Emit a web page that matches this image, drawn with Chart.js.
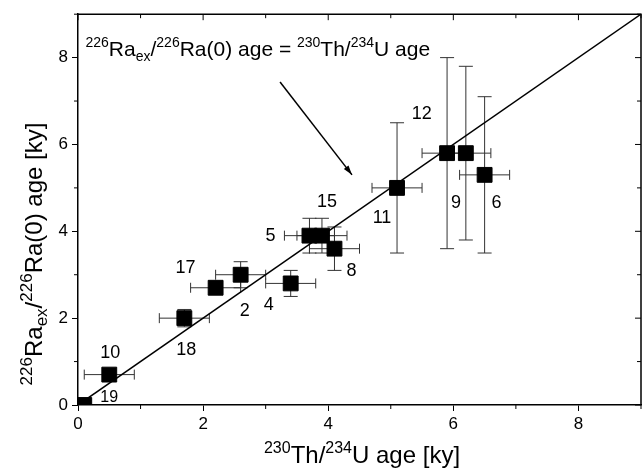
<!DOCTYPE html>
<html>
<head>
<meta charset="utf-8">
<script src="https://cdn.jsdelivr.net/npm/chart.js@4.4.1/dist/chart.umd.min.js"></script>
<style>
  html, body { margin: 0; padding: 0; background: #fff; }
  #wrap { width: 642px; height: 472px; position: relative; }
</style>
</head>
<body>
<div id="wrap"><canvas id="ageChart" width="642" height="472"></canvas></div>
<script>
// sample numbers and ages (ky)
let sampleIds = ["19", "10", "18", "17", "2", "4", "5", "15", "8", "11", "9", "12", "6"];
let thAge   = [0.1, 0.5, 1.7, 2.2, 2.6, 3.4, 3.7, 3.9, 4.1, 5.1, 5.9, 6.2, 6.5];
let raAge   = [0.0, 0.7, 2.0, 2.7, 3.0, 2.8, 3.9, 3.9, 3.6, 5.0, 5.8, 5.8, 5.3];
let thErr   = [0.0, 0.4, 0.4, 0.4, 0.4, 0.4, 0.4, 0.4, 0.4, 0.4, 0.4, 0.4, 0.4];
let raErr   = [0.0, 0.1, 0.2, 0.1, 0.3, 0.3, 0.4, 0.4, 0.5, 1.5, 2.2, 2.0, 1.8];
let xTicks  = [0, 2, 4, 6, 8];
let yTicks  = [0, 2, 4, 6, 8];
let oneToOne = [0, 9];

// where each sample number sits relative to its square (px)
let labelShift = [
    [25, -7], [1, -22], [2, 32], [-30, -20], [4, 36], [-22, 22], [-39, 0],
    [5, -34], [17, 22], [-15, 30], [9, 50], [-44, -39], [12, 28]
];

const FONT = "'Liberation Sans', Arial, Helvetica, sans-serif";

// draws a string made of normal / sup / sub pieces, starting at x (left) on baseline y
function richWidth(ctx, parts, size, small) {
    let w = 0;
    parts.forEach((p) => {
        ctx.font = (p.s ? small : size) + "px " + FONT;
        w += ctx.measureText(p.t).width;
    });
    return w;
}
function drawRich(ctx, parts, x, y, size, small) {
    parts.forEach((p) => {
        ctx.font = (p.s ? small : size) + "px " + FONT;
        let dy = 0;
        if (p.s == "sup") dy = -size * 0.42;
        if (p.s == "sub") dy = size * 0.22;
        ctx.fillText(p.t, x, y + dy);
        x += ctx.measureText(p.t).width;
    });
}

const xTitle = [{t: "230", s: "sup"}, {t: "Th/"}, {t: "234", s: "sup"}, {t: "U age [ky]"}];
const yTitle = [{t: "226", s: "sup"}, {t: "Ra"}, {t: "ex", s: "sub"}, {t: "/"}, {t: "226", s: "sup"}, {t: "Ra(0) age [ky]"}];
const note   = [{t: "226", s: "sup"}, {t: "Ra"}, {t: "ex", s: "sub"}, {t: "/"}, {t: "226", s: "sup"}, {t: "Ra(0) age = "},
                {t: "230", s: "sup"}, {t: "Th/"}, {t: "234", s: "sup"}, {t: "U age"}];

const errorBars = {
    id: "errorBars",
    beforeDatasetsDraw(chart) {
        let ctx = chart.ctx;
        let xs = chart.scales.x, ys = chart.scales.y;
        ctx.save();
        ctx.strokeStyle = "#333";
        ctx.lineWidth = 1;
        for (let i = 0; i < thAge.length; i++) {
            let px = xs.getPixelForValue(thAge[i]);
            let py = ys.getPixelForValue(raAge[i]);
            if (thErr[i] > 0) {
                let x0 = xs.getPixelForValue(thAge[i] - thErr[i]);
                let x1 = xs.getPixelForValue(thAge[i] + thErr[i]);
                ctx.beginPath();
                ctx.moveTo(x0, py); ctx.lineTo(x1, py);
                ctx.moveTo(x0, py - 5); ctx.lineTo(x0, py + 5);
                ctx.moveTo(x1, py - 5); ctx.lineTo(x1, py + 5);
                ctx.stroke();
            }
            if (raErr[i] > 0) {
                let y0 = ys.getPixelForValue(raAge[i] - raErr[i]);
                let y1 = ys.getPixelForValue(raAge[i] + raErr[i]);
                ctx.beginPath();
                ctx.moveTo(px, y0); ctx.lineTo(px, y1);
                ctx.moveTo(px - 7, y0); ctx.lineTo(px + 7, y0);
                ctx.moveTo(px - 7, y1); ctx.lineTo(px + 7, y1);
                ctx.stroke();
            }
        }
        ctx.restore();
    }
};

const frameAndText = {
    id: "frameAndText",
    afterDraw(chart) {
        let ctx = chart.ctx;
        let a = chart.chartArea;
        let xs = chart.scales.x, ys = chart.scales.y;
        ctx.save();
        ctx.strokeStyle = "#000";
        ctx.fillStyle = "#000";
        ctx.lineWidth = 1.5;
        ctx.beginPath();
        ctx.moveTo(a.left, a.top); ctx.lineTo(a.right, a.top); ctx.lineTo(a.right, a.bottom);
        ctx.stroke();

        // minor ticks outside, mirrored ticks inside on top/right
        ctx.lineWidth = 1;
        ctx.beginPath();
        for (let v = 0; v <= 9; v++) {
            let px = xs.getPixelForValue(v);
            let py = ys.getPixelForValue(v);
            let len = v % 2 == 0 ? 6 : 4;
            if (v % 2 == 1) {
                ctx.moveTo(px, a.bottom); ctx.lineTo(px, a.bottom + 4);
                ctx.moveTo(a.left, py); ctx.lineTo(a.left - 4, py);
            }
            ctx.moveTo(px, a.top); ctx.lineTo(px, a.top + len);
            ctx.moveTo(a.right, py); ctx.lineTo(a.right - len, py);
        }
        ctx.stroke();

        // sample numbers
        ctx.textAlign = "center";
        ctx.textBaseline = "middle";
        for (let i = 0; i < sampleIds.length; i++) {
            ctx.font = (sampleIds[i] == "19" ? 16 : 18) + "px " + FONT;
            ctx.fillText(sampleIds[i],
                xs.getPixelForValue(thAge[i]) + labelShift[i][0],
                ys.getPixelForValue(raAge[i]) + labelShift[i][1]);
        }

        // annotation and arrow
        ctx.textAlign = "left";
        ctx.textBaseline = "alphabetic";
        drawRich(ctx, note, xs.getPixelForValue(0.12), ys.getPixelForValue(8.04), 21, 14);
        let ax0 = xs.getPixelForValue(3.23), ay0 = ys.getPixelForValue(7.44);
        let ax1 = xs.getPixelForValue(4.38), ay1 = ys.getPixelForValue(5.3);
        ctx.lineWidth = 1.5;
        ctx.beginPath();
        ctx.moveTo(ax0, ay0); ctx.lineTo(ax1, ay1);
        ctx.stroke();
        let ang = Math.atan2(ay1 - ay0, ax1 - ax0);
        ctx.beginPath();
        ctx.moveTo(ax1, ay1);
        ctx.lineTo(ax1 - 10 * Math.cos(ang - 0.3), ay1 - 10 * Math.sin(ang - 0.3));
        ctx.lineTo(ax1 - 10 * Math.cos(ang + 0.3), ay1 - 10 * Math.sin(ang + 0.3));
        ctx.closePath();
        ctx.fill();

        // axis titles
        let w = richWidth(ctx, xTitle, 24, 16);
        drawRich(ctx, xTitle, 362 - w / 2, 463, 24, 16);
        w = richWidth(ctx, yTitle, 24, 17);
        ctx.translate(42, 254);
        ctx.rotate(-Math.PI / 2);
        drawRich(ctx, yTitle, -w / 2, 0, 24, 17);
        ctx.restore();
    }
};

let ctx = document.getElementById("ageChart").getContext("2d");
let ageChart = new Chart(ctx, {
    type: "scatter",
    data: {
        datasets: [
            {
                label: "1:1",
                type: "line",
                data: oneToOne.map(v => ({x: v, y: v})),
                borderColor: "#000",
                borderWidth: 1.5,
                pointRadius: 0,
                fill: false
            },
            {
                label: "samples",
                data: thAge.map((v, i) => ({x: v, y: raAge[i]})),
                pointStyle: "rect",
                pointRadius: 10.5,
                pointHoverRadius: 10.5,
                backgroundColor: "#000",
                borderColor: "#000",
                borderWidth: 1
            }
        ]
    },
    options: {
        responsive: false,
        animation: false,
        events: [],
        layout: { autoPadding: false, padding: { top: 13, right: 1, left: 0, bottom: 0 } },
        plugins: { legend: { display: false }, tooltip: { enabled: false } },
        scales: {
            x: {
                type: "linear",
                min: 0, max: 9,
                afterBuildTicks: (s) => { s.ticks = xTicks.map(v => ({value: v})); },
                afterFit: (s) => { s.height = 67; },
                ticks: { color: "#000", font: { family: FONT, size: 17 }, padding: 3, maxRotation: 0 },
                grid: { drawOnChartArea: false, tickLength: 6, color: "#000" },
                border: { color: "#000", width: 1.5 }
            },
            y: {
                type: "linear",
                min: 0, max: 9,
                afterBuildTicks: (s) => { s.ticks = yTicks.map(v => ({value: v})); },
                afterFit: (s) => { s.width = 78; },
                ticks: { color: "#000", font: { family: FONT, size: 17 }, padding: 4 },
                grid: { drawOnChartArea: false, tickLength: 6, color: "#000" },
                border: { color: "#000", width: 1.5 }
            }
        }
    },
    plugins: [errorBars, frameAndText]
});
</script>
</body>
</html>
